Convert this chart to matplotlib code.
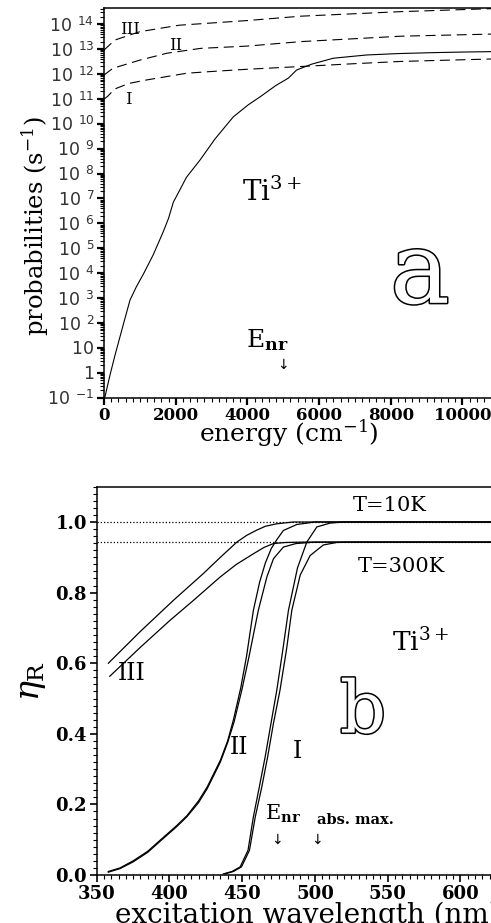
import numpy as np
import matplotlib
matplotlib.use("Agg")
import matplotlib.pyplot as plt
import matplotlib.patheffects as pe
from matplotlib.ticker import MultipleLocator, LogLocator, FuncFormatter, NullFormatter

plt.rcParams['font.family'] = 'DejaVu Serif'
plt.rcParams['mathtext.fontset'] = 'dejavuserif'

# ---- panel a : probabilities vs energy ----
energy_solid = [0, 28, 167, 307, 446, 586, 725, 900, 1100, 1376, 1655, 1800, 1934, 2100, 2300,
                2678, 3100, 3607, 4025, 4351, 4800, 5141, 5375, 5800, 6396, 7325, 8200, 9185,
                10000, 10800]
prob_solid = [1.0e-1, 1.1e-1, 8.1e-1, 5.1e0, 2.8e1, 1.55e2, 8.3e2, 2.8e3, 9.3e3, 5.6e4, 4.7e5,
              1.6e6, 7.1e6, 2.0e7, 7.1e7, 3.5e8, 2.5e9, 1.9e10, 5.8e10, 1.2e11, 3.5e11, 6.8e11,
              1.45e12, 2.5e12, 4.3e12, 5.8e12, 6.6e12, 7.2e12, 7.6e12, 7.9e12]

energy_I = [0, 100, 300, 700, 1200, 2300, 3000, 4000, 5500, 7000, 8300, 10800]
prob_I = [9.8e10, 1.26e11, 2.5e11, 4.2e11, 5.8e11, 1.07e12, 1.26e12, 1.55e12, 2.0e12, 2.6e12,
          3.2e12, 4.0e12]

energy_II = [0, 250, 1000, 1750, 2700, 4000, 5500, 8300, 10800]
prob_II = [9.1e11, 1.7e12, 3.6e12, 6.8e12, 1.07e13, 1.32e13, 2.0e13, 3.3e13, 4.0e13]

energy_III = [0, 300, 1000, 2100, 4000, 5500, 8300, 10800]
prob_III = [9.1e12, 2.3e13, 5.0e13, 9.1e13, 1.4e14, 2.1e14, 3.2e14, 4.2e14]

# ---- panel b : eta_R vs excitation wavelength ----
lam_III_10 = [358, 380, 402.7, 423.3, 435, 446.3, 453, 460, 466, 473.8, 485, 625]
eta_III_10 = [0.60, 0.69, 0.778, 0.854, 0.90, 0.943, 0.962, 0.977, 0.988, 0.995, 1.0, 1.0]
lam_III_300 = [359, 380, 400, 416.5, 434.8, 446, 457.7, 465, 471.5, 480, 492, 625]
eta_III_300 = [0.563, 0.645, 0.72, 0.778, 0.844, 0.88, 0.91, 0.928, 0.939, 0.942, 0.943, 0.943]

lam_II_10 = [358, 366, 375, 385, 394, 405, 412, 420, 426, 435, 440, 444, 449, 453, 457.7,
             462, 466, 470, 473.8, 478.3, 487.6, 500, 625]
eta_II_10 = [0.010, 0.020, 0.040, 0.067, 0.10, 0.14, 0.168, 0.21, 0.25, 0.325, 0.38, 0.44, 0.53,
             0.62, 0.75, 0.83, 0.885, 0.925, 0.950, 0.976, 0.993, 1.0, 1.0]
lam_II_300 = [358, 366, 375, 385, 394, 405, 412, 420, 426, 435, 440, 444.5, 449.8, 454.5,
              461.1, 467, 471.5, 478.3, 487, 500, 625]
eta_II_300 = [0.008, 0.018, 0.037, 0.064, 0.097, 0.137, 0.165, 0.205, 0.245, 0.32, 0.375, 0.435,
              0.525, 0.615, 0.75, 0.845, 0.896, 0.929, 0.939, 0.943, 0.943]

lam_I_10 = [437, 443, 448.6, 454, 457.7, 461.8, 465.8, 469.8, 473.8, 478, 481.8, 488, 494.4,
            501.3, 510.5, 520, 625]
eta_I_10 = [0.003, 0.010, 0.023, 0.07, 0.165, 0.25, 0.335, 0.43, 0.524, 0.64, 0.75, 0.87, 0.943,
            0.986, 0.997, 1.0, 1.0]
lam_I_300 = [438, 444, 449.5, 455, 459, 463.5, 467.5, 471.5, 476, 480.5, 484.1, 489.9, 496.7,
             505.8, 515, 525, 625]
eta_I_300 = [0.003, 0.010, 0.023, 0.07, 0.165, 0.25, 0.335, 0.43, 0.524, 0.64, 0.75, 0.85, 0.905,
             0.935, 0.942, 0.943, 0.943]

plateau_levels = [1.0, 0.943]

fig = plt.figure(figsize=(4.91, 9.23), dpi=100)
W, H = 491.0, 923.0

# ---------------- panel a ----------------
ax1 = fig.add_axes([104 / W, (H - 397.7) / H, 387 / W, 389.7 / H])
ax1.semilogy(energy_solid, prob_solid, color='black', lw=0.8)
for e, p in [(energy_I, prob_I), (energy_II, prob_II), (energy_III, prob_III)]:
    ax1.semilogy(e, p, color='black', lw=0.8, linestyle=(0, (9, 5)))

ax1.set_xlim(0, 10795)
ax1.set_ylim(1e-1, 10 ** 14.65)
ax1.spines['right'].set_visible(False)
for s in ax1.spines.values():
    s.set_linewidth(1.1)

ax1.xaxis.set_major_locator(MultipleLocator(2000))
ax1.xaxis.set_minor_locator(MultipleLocator(200))
ax1.yaxis.set_major_locator(LogLocator(base=10, numticks=30))
ax1.yaxis.set_minor_locator(LogLocator(base=10, subs=np.arange(2, 10), numticks=30))
ax1.yaxis.set_minor_formatter(NullFormatter())


def ylab(v, pos):
    k = int(round(np.log10(v)))
    if k == 0:
        return r'$\mathsf{1}\enspace$'
    if k == 1:
        return r'$\mathsf{10}\enspace$'
    return r'$\mathsf{10}^{\enspace\mathsf{%d}}$' % k


ax1.yaxis.set_major_formatter(FuncFormatter(ylab))
ax1.tick_params(axis='both', which='major', direction='out', length=5, width=1.6)
ax1.tick_params(axis='both', which='minor', direction='out', length=3, width=0.8)
ax1.tick_params(axis='x', labelsize=12, pad=2)
ax1.tick_params(axis='y', labelsize=12.5, pad=2, labelcolor='#333333')
for lbl in ax1.get_xticklabels():
    lbl.set_fontweight('bold')

ax1.text(-0.178, 0.44, r'probabilities (s$^{-1}$)', transform=ax1.transAxes,
         rotation=90, ha='center', va='center', fontsize=17.5)
ax1.text(0.245, -0.09, r'energy (cm$^{-1}$)', transform=ax1.transAxes,
         ha='left', va='center', fontsize=18)

ax1.text(725, 10 ** 13.77, 'III', ha='center', va='center', fontsize=12)
ax1.text(2013, 10 ** 13.16, 'II', ha='center', va='center', fontsize=12)
ax1.text(670, 10 ** 10.96, 'I', ha='center', va='center', fontsize=12)
ax1.text(4686, 10 ** 7.26, r'Ti$^{3+}$', ha='center', va='center', fontsize=20)
ax1.text(8815, 10 ** 3.89, 'a', ha='center', va='center', fontsize=72, color='white',
         path_effects=[pe.withStroke(linewidth=2.2, foreground='black')])
ax1.text(4560, 10 ** 1.32, r'E$_{\mathbf{nr}}$', ha='center', va='center', fontsize=18)
ax1.text(5000, 10 ** 0.31, u'\u2193', ha='center', va='center', fontsize=10,
         family='DejaVu Sans')

# ---------------- panel b ----------------
ax2 = fig.add_axes([96.7 / W, 48 / H, 394.3 / W, 388.3 / H])
for y in plateau_levels:
    ax2.axhline(y, color='black', lw=0.9, linestyle=(0, (1, 1.6)))
curves_b = [(lam_III_10, eta_III_10), (lam_III_300, eta_III_300),
            (lam_II_10, eta_II_10), (lam_II_300, eta_II_300),
            (lam_I_10, eta_I_10), (lam_I_300, eta_I_300)]
for lam, eta in curves_b:
    ax2.plot(lam, eta, color='black', lw=0.9)

ax2.set_xlim(350, 621)
ax2.set_ylim(0, 1.1)
ax2.spines['right'].set_visible(False)
for s in ax2.spines.values():
    s.set_linewidth(1.1)
ax2.xaxis.set_major_locator(MultipleLocator(50))
ax2.xaxis.set_minor_locator(MultipleLocator(5))
ax2.yaxis.set_major_locator(MultipleLocator(0.2))
ax2.yaxis.set_minor_locator(MultipleLocator(0.02))
ax2.yaxis.set_major_formatter(FuncFormatter(lambda v, p: '%.1f' % v))
ax2.tick_params(axis='both', which='major', direction='out', length=5, width=1.2)
ax2.tick_params(axis='both', which='minor', direction='out', length=3, width=0.8)
ax2.tick_params(axis='both', labelsize=13, pad=2)
for lbl in ax2.get_xticklabels() + ax2.get_yticklabels():
    lbl.set_fontweight('bold')

ax2.text(-0.164, 0.50, r'$\eta_{\rm R}$', transform=ax2.transAxes, rotation=90,
         ha='center', va='center', fontsize=24)
ax2.text(0.046, -0.103, 'excitation wavelength (nm)', transform=ax2.transAxes,
         ha='left', va='center', fontsize=20)

ax2.text(374.3, 0.572, 'III', ha='center', va='center', fontsize=17)
ax2.text(447.9, 0.36, 'II', ha='center', va='center', fontsize=17)
ax2.text(487.8, 0.351, 'I', ha='center', va='center', fontsize=17)
ax2.text(551.7, 1.047, 'T=10K', ha='center', va='center', fontsize=15)
ax2.text(559.3, 0.875, 'T=300K', ha='center', va='center', fontsize=15)
ax2.text(572.3, 0.66, r'Ti$^{3+}$', ha='center', va='center', fontsize=19)
ax2.text(533, 0.461, 'b', ha='center', va='center', fontsize=52, color='white',
         path_effects=[pe.withStroke(linewidth=2.2, foreground='black')])
ax2.text(478, 0.173, r'E$_{\mathbf{nr}}$', ha='center', va='center', fontsize=15)
ax2.text(528, 0.156, 'abs. max.', ha='center', va='center', fontsize=10.5, fontweight='bold')
ax2.text(474, 0.10, u'\u2193', ha='center', va='center', fontsize=10, family='DejaVu Sans')
ax2.text(501.5, 0.10, u'\u2193', ha='center', va='center', fontsize=10, family='DejaVu Sans')

fig.savefig('out.png', dpi=100)
